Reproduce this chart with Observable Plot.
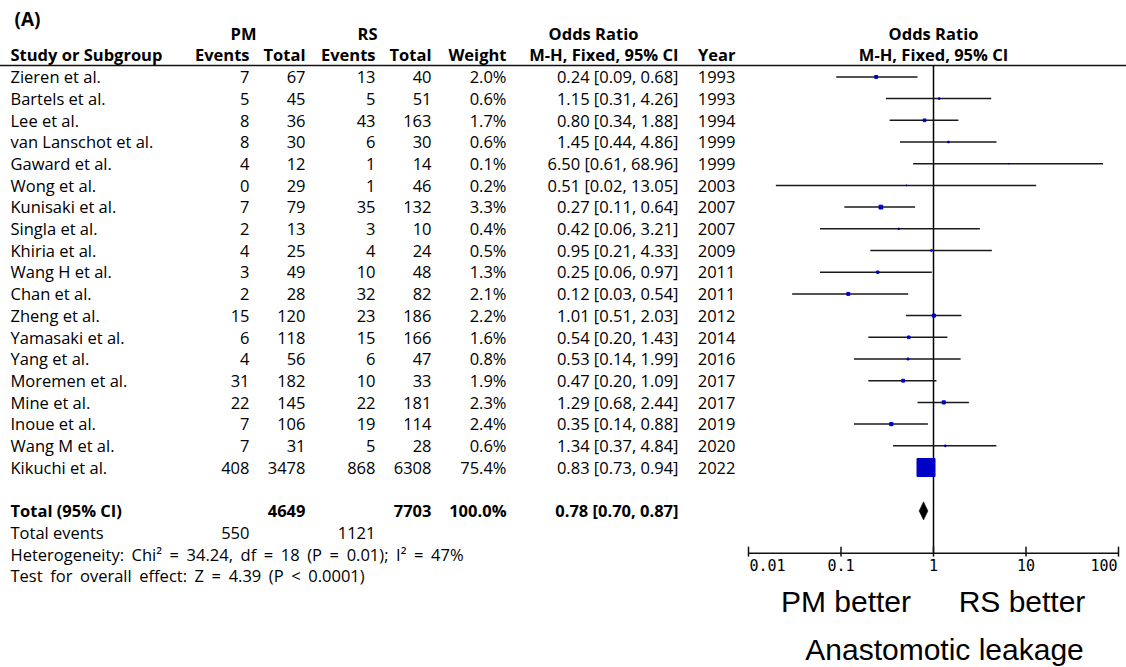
<!DOCTYPE html>
<html>
<head>
<meta charset="utf-8">
<script src="https://cdn.jsdelivr.net/npm/d3@7"></script>
<script src="https://cdn.jsdelivr.net/npm/@observablehq/plot@0.6"></script>
<style>
  html, body { margin: 0; padding: 0; background: #fff; }
  #chart svg { display: block; }
</style>
</head>
<body>
<div id="chart"></div>
<script>
// ---- data ----
const studies = ["Zieren et al.", "Bartels et al.", "Lee et al.", "van Lanschot et al.", "Gaward et al.",
  "Wong et al.", "Kunisaki et al.", "Singla et al.", "Khiria et al.", "Wang H et al.", "Chan et al.",
  "Zheng et al.", "Yamasaki et al.", "Yang et al.", "Moremen et al.", "Mine et al.", "Inoue et al.",
  "Wang M et al.", "Kikuchi et al."];
const pmEvents = [7, 5, 8, 8, 4, 0, 7, 2, 4, 3, 2, 15, 6, 4, 31, 22, 7, 7, 408];
const pmTotal  = [67, 45, 36, 30, 12, 29, 79, 13, 25, 49, 28, 120, 118, 56, 182, 145, 106, 31, 3478];
const rsEvents = [13, 5, 43, 6, 1, 1, 35, 3, 4, 10, 32, 23, 15, 6, 10, 22, 19, 5, 868];
const rsTotal  = [40, 51, 163, 30, 14, 46, 132, 10, 24, 48, 82, 186, 166, 47, 33, 181, 114, 28, 6308];
const weights  = [2.0, 0.6, 1.7, 0.6, 0.1, 0.2, 3.3, 0.4, 0.5, 1.3, 2.1, 2.2, 1.6, 0.8, 1.9, 2.3, 2.4, 0.6, 75.4];
const oddsRatio = [0.24, 1.15, 0.80, 1.45, 6.50, 0.51, 0.27, 0.42, 0.95, 0.25, 0.12, 1.01, 0.54, 0.53, 0.47, 1.29, 0.35, 1.34, 0.83];
const ciLow  = [0.09, 0.31, 0.34, 0.44, 0.61, 0.02, 0.11, 0.06, 0.21, 0.06, 0.03, 0.51, 0.20, 0.14, 0.20, 0.68, 0.14, 0.37, 0.73];
const ciHigh = [0.68, 4.26, 1.88, 4.86, 68.96, 13.05, 0.64, 3.21, 4.33, 0.97, 0.54, 2.03, 1.43, 1.99, 1.09, 2.44, 0.88, 4.84, 0.94];
const years  = [1993, 1993, 1994, 1999, 1999, 2003, 2007, 2007, 2009, 2011, 2011, 2012, 2014, 2016, 2017, 2017, 2019, 2020, 2022];

const totalPmTotal = 4649, totalRsTotal = 7703, totalWeight = 100.0;
const totalOR = 0.78, totalLow = 0.70, totalHigh = 0.87;
const totalPmEvents = 550, totalRsEvents = 1121;
const heterogeneityText = "Heterogeneity: Chi² = 34.24, df = 18 (P = 0.01); I² = 47%";
const overallText = "Test for overall effect: Z = 4.39 (P < 0.0001)";
const axisTicks = [0.01, 0.1, 1, 10, 100];
const axisTickLabels = ["0.01", "0.1", "1", "10", "100"];
const favourLabels = ["PM better", "RS better"];
const favourAt = [0.1, 10];
const outcomeLabel = "Anastomotic leakage";

// ---- layout ----
const rowTotal = studies.length + 1;      // blank row between studies and total
const rowEvents = rowTotal + 1;
const rowHet = rowTotal + 2;
const rowTest = rowTotal + 3;
const headerLine = -0.53;
const axisRow = 21.95;
const FS = 16.5;

const cols = {
  study: {x: 10, anchor: "start"},
  pmE:   {x: 249, anchor: "end"},
  pmT:   {x: 305, anchor: "end"},
  rsE:   {x: 375, anchor: "end"},
  rsT:   {x: 431, anchor: "end"},
  w:     {x: 506, anchor: "end"},
  or:    {x: 678, anchor: "end"},
  year:  {x: 735, anchor: "end"}
};

const f2 = v => v.toFixed(2);
const rows = studies.map((s, i) => ({
  i, study: s, pmE: pmEvents[i], pmT: pmTotal[i], rsE: rsEvents[i], rsT: rsTotal[i],
  w: weights[i], or: oddsRatio[i], lo: ciLow[i], hi: ciHigh[i], year: years[i]
}));

// table cells
const cells = [];
const add = (row, col, text, bold = false) => cells.push({row, col, text: String(text), bold});
add(-1, "study", "Study or Subgroup", true);
add(-1, "pmE", "Events", true);
add(-1, "pmT", "Total", true);
add(-1, "rsE", "Events", true);
add(-1, "rsT", "Total", true);
add(-1, "w", "Weight", true);
add(-1, "or", "M-H, Fixed, 95% CI", true);
add(-1, "year", "Year", true);
for (const r of rows) {
  add(r.i, "study", r.study);
  add(r.i, "pmE", r.pmE);
  add(r.i, "pmT", r.pmT);
  add(r.i, "rsE", r.rsE);
  add(r.i, "rsT", r.rsT);
  add(r.i, "w", r.w.toFixed(1) + "%");
  add(r.i, "or", `${f2(r.or)} [${f2(r.lo)}, ${f2(r.hi)}]`);
  add(r.i, "year", r.year);
}
add(rowTotal, "study", "Total (95% CI)", true);
add(rowTotal, "pmT", totalPmTotal, true);
add(rowTotal, "rsT", totalRsTotal, true);
add(rowTotal, "w", totalWeight.toFixed(1) + "%", true);
add(rowTotal, "or", `${f2(totalOR)} [${f2(totalLow)}, ${f2(totalHigh)}]`, true);
add(rowEvents, "study", "Total events");
add(rowEvents, "pmE", totalPmEvents);
add(rowEvents, "rsE", totalRsEvents);

const tableMarks = [];
for (const [key, c] of Object.entries(cols)) {
  for (const bold of [false, true]) {
    const data = cells.filter(d => d.col === key && d.bold === bold);
    if (!data.length) continue;
    tableMarks.push(Plot.text(data, {
      y: "row", text: "text", frameAnchor: "left", dx: c.x, dy: 1,
      textAnchor: c.anchor, fontWeight: bold ? "bold" : "normal", fontSize: FS, fill: "#000"
    }));
  }
}
// statistics lines
const statLines = [heterogeneityText, overallText];
tableMarks.push(Plot.text([{row: rowHet, text: heterogeneityText}, {row: rowTest, text: overallText}], {
  y: "row", text: "text", frameAnchor: "left", dx: cols.study.x, dy: 1,
  textAnchor: "start", fontSize: FS, fill: "#000"
}));

// top group headers
const groupHeads = [
  {text: "PM", x: 243}, {text: "RS", x: 367}, {text: "Odds Ratio", x: 593}
];
for (const g of groupHeads) {
  tableMarks.push(Plot.text([g.text], {y: -2, frameAnchor: "left", dx: g.x, dy: 1,
    textAnchor: "middle", fontWeight: "bold", fontSize: FS}));
}

const diamond = [
  {x: totalLow, y: rowTotal}, {x: totalOR, y: rowTotal - 0.42},
  {x: totalHigh, y: rowTotal}, {x: totalOR, y: rowTotal + 0.42}, {x: totalLow, y: rowTotal}
];

const tickData = axisTicks.map((t, k) => ({t, label: axisTickLabels[k], k}));
const bigFont = "'Liberation Sans', Arial, sans-serif";

const chart = Plot.plot({
  width: 1126, height: 667,
  marginTop: 0, marginRight: 0, marginBottom: 0, marginLeft: 0,
  style: {fontFamily: "'Open Sans', sans-serif", fontSize: "16px", background: "#fff", color: "#000"},
  x: {type: "log", domain: [0.01, 100], range: [748, 1118], axis: null},
  y: {domain: [-2, 23], range: [33, 575.5], axis: null},
  r: {type: "sqrt", domain: [0, 75.4], range: [0, 10.16]},
  marks: [
    Plot.text(["(A)"], {y: -2.62, frameAnchor: "left", dx: 14, textAnchor: "start",
      fontWeight: "bold", fontSize: 19}),
    Plot.ruleY([headerLine], {stroke: "#111", strokeWidth: 1.5}),
    Plot.ruleX([1], {y1: headerLine, y2: axisRow, stroke: "#000", strokeWidth: 1.5}),
    Plot.ruleY(rows, {y: "i", x1: "lo", x2: "hi", stroke: "#1a1a1a", strokeWidth: 1.5}),
    Plot.dot(rows, {x: "or", y: "i", r: "w", symbol: "square", fill: "#0000c8",
      stroke: "#0000c8", strokeWidth: 1}),
    Plot.line(diamond, {x: "x", y: "y", fill: "#000", stroke: "#000", strokeWidth: 0.5}),
    // axis
    Plot.ruleY([axisRow], {x1: axisTicks[0], x2: axisTicks[axisTicks.length - 1], stroke: "#111", strokeWidth: 1.5}),
    Plot.ruleX(axisTicks, {y1: axisRow - 0.28, y2: axisRow + 0.18, stroke: "#111", strokeWidth: 1.5}),
    Plot.text(tickData.filter(d => d.k === 0), {x: "t", y: axisRow, text: "label", dy: 13, dx: 1,
      textAnchor: "start", fontFamily: "'DejaVu Sans Mono', monospace", fontSize: 15}),
    Plot.text(tickData.filter(d => d.k > 0 && d.k < axisTicks.length - 1), {x: "t", y: axisRow, text: "label", dy: 13,
      textAnchor: "middle", fontFamily: "'DejaVu Sans Mono', monospace", fontSize: 15}),
    Plot.text(tickData.filter(d => d.k === axisTicks.length - 1), {x: "t", y: axisRow, text: "label", dy: 13, dx: -1,
      textAnchor: "end", fontFamily: "'DejaVu Sans Mono', monospace", fontSize: 15}),
    // plot column header
    Plot.text(["Odds Ratio"], {x: 1, y: -2, dy: 1, textAnchor: "middle", fontWeight: "bold", fontSize: FS}),
    Plot.text(["M-H, Fixed, 95% CI"], {x: 1, y: -1, dy: 1, textAnchor: "middle", fontWeight: "bold", fontSize: FS}),
    // direction labels
    Plot.text([favourLabels[0]], {x: favourAt[0], y: 24.22, dx: 5, textAnchor: "middle",
      fontFamily: bigFont, fontSize: 30}),
    Plot.text([favourLabels[1]], {x: favourAt[1], y: 24.22, dx: -4, textAnchor: "middle",
      fontFamily: bigFont, fontSize: 30}),
    Plot.text([outcomeLabel], {x: 1, y: 26.43, dx: 11, textAnchor: "middle",
      fontFamily: bigFont, fontSize: 30}),
    ...tableMarks
  ]
});
// the reference's statistics lines are set with wider word spacing
d3.select(chart).selectAll("text")
  .filter(function() { return statLines.includes(this.textContent); })
  .style("word-spacing", "3.3px");
document.getElementById("chart").appendChild(chart);
</script>
</body>
</html>
